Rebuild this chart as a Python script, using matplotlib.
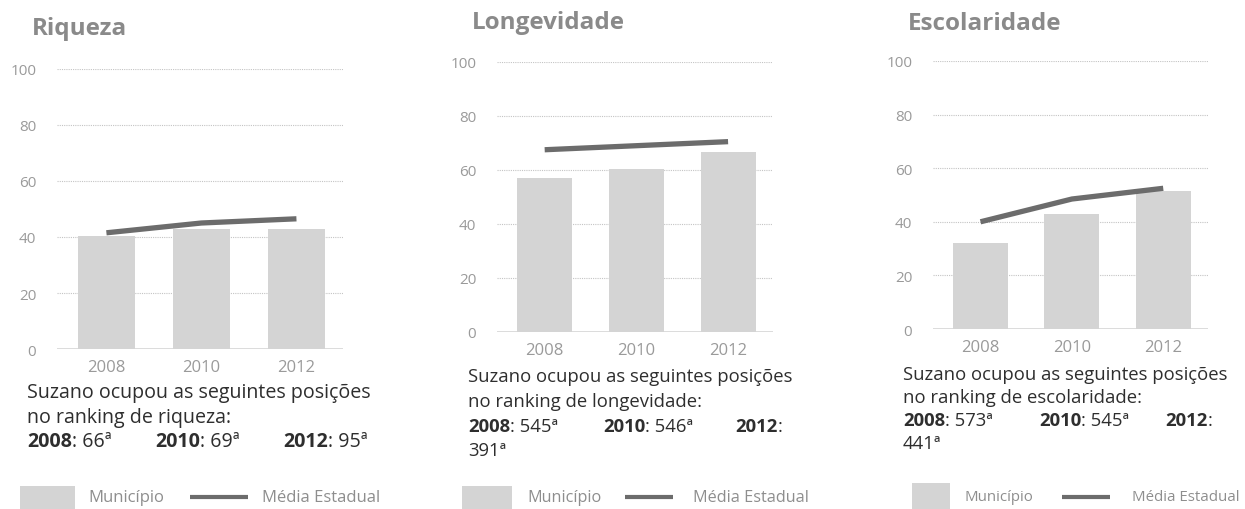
import matplotlib
matplotlib.use("Agg")
import matplotlib.pyplot as plt
from matplotlib.patches import Rectangle
from matplotlib.lines import Line2D

plt.rcParams['font.family'] = ['Open Sans', 'DejaVu Sans']

W, H = 1245, 510
DPI = 100

# ---- data -------------------------------------------------------------
years = ["2008", "2010", "2012"]
titles = ["Riqueza", "Longevidade", "Escolaridade"]

municipio_riqueza = [40.5, 42.8, 43.0]
media_riqueza = [41.5, 45.0, 46.5]

municipio_longevidade = [57.0, 60.5, 66.5]
media_longevidade = [67.5, 69.0, 70.5]

municipio_escolaridade = [32.0, 43.0, 51.5]
media_escolaridade = [40.0, 48.5, 52.5]

ranking_topics = ["riqueza", "longevidade", "escolaridade"]
ranking_riqueza = [66, 69, 95]
ranking_longevidade = [545, 546, 391]
ranking_escolaridade = [573, 545, 441]

yticks = [0, 20, 40, 60, 80, 100]
legend_labels = ["Município", "Média Estadual"]

# ---- styles -----------------------------------------------------------
BAR_COLOR = "#d4d4d4"
LINE_COLOR = "#6c6c6c"
GRID_COLOR = "#c4c4c4"
TICK_COLOR = "#9a9a9a"
TITLE_COLOR = "#8a8a8a"
TEXT_COLOR = "#2e2e2e"
LEGEND_TEXT = "#8e8e8e"

fig = plt.figure(figsize=(W / DPI, H / DPI), dpi=DPI)
fig.patch.set_facecolor("white")


def fx(x):
    return x / W


def fy(y):
    return 1 - y / H


# per-panel layout in pixels
panels = [
    dict(title=(32, 35), ax=(57, 343, 70, 350), text_x=27, fs=14.1,
         base=[398, 423, 447], cols=[27, 155, 283], wrap=False,
         sw=(20, 75, 487), ln=(190, 248, 498), lab=(88, 262), lfs=12.0),
    dict(title=(472, 29), ax=(497, 773, 63, 333), text_x=468, fs=13.3,
         base=[382, 407, 432, 456], cols=[468, 603, 735], wrap=True,
         sw=(462, 512, 487), ln=(625, 673, 498), lab=(527, 693), lfs=11.7),
    dict(title=(908, 30), ax=(933, 1208, 62, 330), text_x=903, fs=13.3,
         base=[380, 403, 426, 449], cols=[903, 1039, 1165], wrap=True,
         sw=(912, 950, 484), ln=(1062, 1110, 498), lab=(964, 1132), lfs=10.8),
]

bars_all = [municipio_riqueza, municipio_longevidade, municipio_escolaridade]
lines_all = [media_riqueza, media_longevidade, media_escolaridade]
ranks_all = [ranking_riqueza, ranking_longevidade, ranking_escolaridade]

renderer = fig.canvas.get_renderer()


def put_parts(x, y, parts, fs):
    """Draw consecutive text pieces with differing weights on one baseline."""
    for s, weight in parts:
        t = fig.text(fx(x), fy(y), s, fontsize=fs, fontweight=weight,
                     color=TEXT_COLOR, va="baseline", ha="left")
        bb = t.get_window_extent(renderer=renderer)
        x = bb.x1


for i, p in enumerate(panels):
    L, R, T, B = p["ax"]
    ax = fig.add_axes([fx(L), fy(B), (R - L) / W, (B - T) / H])
    xs = list(range(len(years)))
    ax.bar(xs, bars_all[i], width=0.6, color=BAR_COLOR, zorder=2)
    ax.plot(xs, lines_all[i], color=LINE_COLOR, lw=3.8,
            solid_capstyle="butt", zorder=3)
    ax.set_xlim(-0.52, 2.49)
    ax.set_ylim(0, 100)
    ax.set_yticks(yticks)
    ax.set_xticks(xs)
    ax.set_xticklabels(years)
    for s in ax.spines.values():
        s.set_visible(False)
    ax.tick_params(axis="y", length=0, pad=15, labelsize=11,
                   labelcolor=TICK_COLOR)
    ax.tick_params(axis="x", length=0, pad=7, labelsize=12,
                   labelcolor=TICK_COLOR)
    ax.set_axisbelow(True)
    for v in yticks[1:]:
        ax.axhline(v, color=GRID_COLOR, lw=0.8, ls=(0, (1, 1)), zorder=1)
    ax.axhline(0, color="#d6d6d6", lw=1.2, zorder=1)
    ax.patch.set_alpha(0)

    # panel heading
    tx, ty = p["title"]
    fig.text(fx(tx), fy(ty), titles[i], fontsize=17.5, fontweight="bold",
             color=TITLE_COLOR, va="baseline", ha="left")

    # ranking text
    fs = p["fs"]
    b = p["base"]
    put_parts(p["text_x"], b[0], [("Suzano ocupou as seguintes posições",
                                   "normal")], fs)
    put_parts(p["text_x"], b[1], [("no ranking de %s:" % ranking_topics[i],
                                   "normal")], fs)
    r = ranks_all[i]
    put_parts(p["cols"][0], b[2], [(years[0], "bold"), (": %dª" % r[0], "normal")], fs)
    put_parts(p["cols"][1], b[2], [(years[1], "bold"), (": %dª" % r[1], "normal")], fs)
    if p["wrap"]:
        put_parts(p["cols"][2], b[2], [(years[2], "bold"), (":", "normal")], fs)
        put_parts(p["text_x"], b[3], [("%dª" % r[2], "normal")], fs)
    else:
        put_parts(p["cols"][2], b[2], [(years[2], "bold"), (": %dª" % r[2], "normal")], fs)

    # legend
    x0, x1, ytop = p["sw"]
    fig.add_artist(Rectangle((fx(x0), 0), (x1 - x0) / W, fy(ytop),
                             transform=fig.transFigure, color=BAR_COLOR,
                             lw=0))
    lx0, lx1, ly = p["ln"]
    fig.add_artist(Line2D([fx(lx0), fx(lx1)], [fy(ly), fy(ly)],
                          transform=fig.transFigure, color=LINE_COLOR,
                          lw=3.0, solid_capstyle="butt"))
    fig.text(fx(p["lab"][0]), fy(ly), legend_labels[0], fontsize=p["lfs"],
             color=LEGEND_TEXT, va="center", ha="left")
    fig.text(fx(p["lab"][1]), fy(ly), legend_labels[1], fontsize=p["lfs"],
             color=LEGEND_TEXT, va="center", ha="left")

fig.savefig("out.png", dpi=DPI, facecolor="white")
